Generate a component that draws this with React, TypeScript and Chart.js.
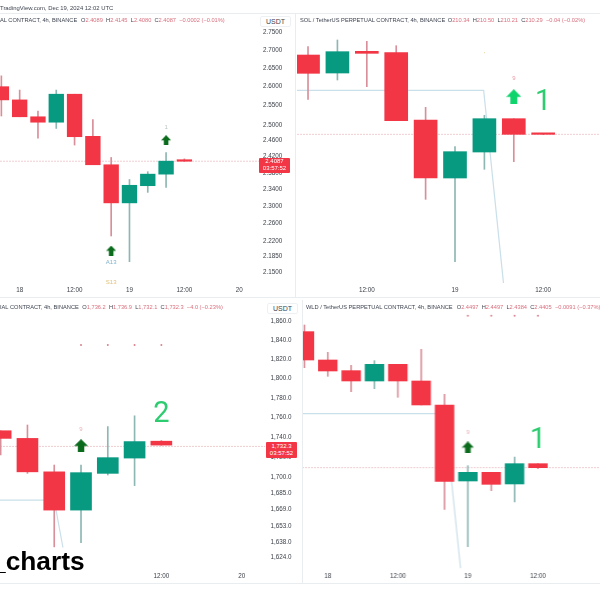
import React, { useEffect, useRef } from "react";
import { Chart, registerables } from "chart.js";

Chart.register(...registerables);

const RED = "#f23645";
const GREEN = "#089981";
const RED_WICK = "#d98f99";
const GREEN_WICK = "#8db7b3";
const LINE = "#c9dfe9";
const LAST_LINE = "#efcdd1";
const FONT = "'Liberation Sans', Arial, sans-serif";

// Top-left panel
const p1Hours = [-4, 0, 4, 8, 12, 16, 20, 24, 28, 32, 36];
const p1Open = [2.6, 2.565, 2.521, 2.507, 2.58, 2.471, 2.4, 2.308, 2.349, 2.377, 2.4089];
const p1High = [2.629, 2.591, 2.536, 2.591, 2.58, 2.514, 2.418, 2.364, 2.383, 2.43, 2.4145];
const p1Low = [2.523, 2.521, 2.466, 2.491, 2.449, 2.4, 2.231, 2.173, 2.333, 2.345, 2.408];
const p1Close = [2.565, 2.521, 2.507, 2.58, 2.47, 2.4, 2.308, 2.35, 2.377, 2.4089, 2.4087];
const p1Ticks = [2.75, 2.7, 2.65, 2.6, 2.55, 2.5, 2.46, 2.42, 2.38, 2.34, 2.3, 2.26, 2.22, 2.185, 2.15];
const p1XTicks = [0, 12, 24, 36, 48];
const p1XLabels = ["18", "12:00", "19", "12:00", "20"];

// Top-right panel (SOL)
const p2Hours = [4, 8, 12, 16, 20, 24, 28, 32, 36];
const p2Open = [230.92, 226.24, 231.88, 231.53, 214.02, 198.93, 205.69, 214.36, 210.34];
const p2High = [233.09, 234.83, 234.48, 233.35, 217.31, 207.08, 215.23, 214.36, 210.5];
const p2Low = [219.39, 224.42, 222.69, 213.84, 193.38, 177.17, 201.19, 203.18, 210.21];
const p2Close = [226.16, 231.79, 231.36, 213.84, 198.93, 205.78, 214.36, 210.29, 210.29];
const p2XTicks = [12, 24, 36];
const p2XLabels = ["12:00", "19", "12:00"];
const p2LineHours = [2.5, 27.9, 30.6];
const p2LineValues = [221.73, 221.73, 171.54];

// Bottom-left panel
const p3Hours = [12, 16, 20, 24, 28, 32, 36];
const p3Open = [1746.7, 1739, 1705.8, 1668.6, 1704.3, 1719.4, 1736.2];
const p3High = [1746.7, 1752.5, 1712.5, 1712.5, 1750.9, 1761.8, 1736.9];
const p3Low = [1722.4, 1704.3, 1633.6, 1637.5, 1702.7, 1692.3, 1732.1];
const p3Close = [1739, 1705.8, 1668.6, 1705, 1719.8, 1735.8, 1732.3];
const p3Ticks = [1860, 1840, 1820, 1800, 1780, 1760, 1740, 1720, 1700, 1685, 1669, 1653, 1638, 1624];
const p3XTicks = [36, 48];
const p3XLabels = ["12:00", "20"];
const p3LineHours = [11.9, 20, 21.3];
const p3LineValues = [1678.3, 1678.3, 1633];

// Bottom-right panel (WLD)
const p4Hours = [-4, 0, 4, 8, 12, 16, 20, 24, 28, 32, 36];
const p4Open = [2.7547, 2.6892, 2.6646, 2.6407, 2.6792, 2.6407, 2.5853, 2.4097, 2.4297, 2.4028, 2.4497];
const p4High = [2.7701, 2.7069, 2.6769, 2.6877, 2.6792, 2.7139, 2.6099, 2.4451, 2.4297, 2.4651, 2.4497];
const p4Low = [2.6715, 2.6515, 2.6161, 2.623, 2.603, 2.5853, 2.3442, 2.258, 2.3874, 2.3612, 2.4384];
const p4Close = [2.6892, 2.6638, 2.6407, 2.6792, 2.6407, 2.5853, 2.4089, 2.4297, 2.402, 2.4497, 2.4405];
const p4XTicks = [0, 12, 24, 36];
const p4XLabels = ["18", "12:00", "19", "12:00"];
const p4LineHours = [-4.42, 20, 22.74];
const p4LineValues = [2.5652, 2.5652, 2.208];

function format4(v: number) { return v.toFixed(4); }
function formatK(v: number) {
  return v.toLocaleString("en-US", { minimumFractionDigits: 1, maximumFractionDigits: 1 });
}

function arrow(w: number, h: number, color: string) {
  const c = document.createElement("canvas");
  c.width = w; c.height = h;
  const g = c.getContext("2d")!;
  const sx = w / 10, sy = h / 10;
  g.fillStyle = color;
  g.beginPath();
  g.moveTo(5 * sx, 0);
  g.lineTo(10 * sx, 5.2 * sy);
  g.lineTo(7.3 * sx, 5.2 * sy);
  g.lineTo(7.3 * sx, 10 * sy);
  g.lineTo(2.7 * sx, 10 * sy);
  g.lineTo(2.7 * sx, 5.2 * sy);
  g.lineTo(0, 5.2 * sy);
  g.closePath();
  g.fill();
  return c;
}

type Cfg = {
  left: number; top: number; width: number; height: number; axisWidth: number; axisHeight: number; axisPad: number;
  hours: number[]; open: number[]; high: number[]; low: number[]; close: number[];
  bodyWidth: number; xMin: number; xMax: number; yMin: number; yMax: number; log: boolean;
  xTicks: number[]; xLabels: string[]; yTicks?: number[]; yFormat?: (v: number) => string;
  last: number; lineX?: number[]; lineY?: number[];
  arrows: { x: number; y: number; w: number; h: number; color: string }[];
  dots?: { x: number[]; y: number };
  marks: { x: number; y: number; text: string; color: string; font: string }[];
};

const panels: Cfg[] = [
  {
    left: 0, top: 13, width: 295, height: 284, axisWidth: 35, axisHeight: 14, axisPad: 3,
    hours: p1Hours, open: p1Open, high: p1High, low: p1Low, close: p1Close, bodyWidth: 14.7,
    xMin: -4.3, xMax: 52.53, yMin: 2.126, yMax: 2.804, log: true,
    xTicks: p1XTicks, xLabels: p1XLabels, yTicks: p1Ticks, yFormat: format4, last: 2.4087,
    arrows: [
      { x: 32, y: 2.4615, w: 10, h: 10, color: "#0b6b1c" },
      { x: 20, y: 2.198, w: 10, h: 10, color: "#0b6b1c" },
    ],
    marks: [
      { x: 32, y: 2.495, text: "1", color: "#b9c2c4", font: `6px ${FONT}` },
      { x: 20, y: 2.171, text: "A13", color: "#7fb2cc", font: `6px ${FONT}` },
      { x: 20, y: 2.127, text: "S13", color: "#e0c27a", font: `6px ${FONT}` },
    ],
  },
  {
    left: 297, top: 13, width: 303, height: 284, axisWidth: 0, axisHeight: 14, axisPad: 0,
    hours: p2Hours, open: p2Open, high: p2High, low: p2Low, close: p2Close, bodyWidth: 23,
    xMin: 2.5, xMax: 43.73, yMin: 171.62, yMax: 241.85, log: false,
    xTicks: p2XTicks, xLabels: p2XLabels, last: 210.29, lineX: p2LineHours, lineY: p2LineValues,
    arrows: [{ x: 32, y: 220.09, w: 15, h: 15, color: "#0fd46c" }],
    marks: [
      { x: 28, y: 231.19, text: "'", color: "#e0c27a", font: `6px ${FONT}` },
      { x: 32, y: 224.86, text: "9", color: "#e79aa2", font: `6px ${FONT}` },
      { x: 36, y: 218.61, text: "1", color: "#2ecc71", font: `29px Roboto, ${FONT}` },
    ],
  },
  {
    left: 0, top: 300, width: 300, height: 283, axisWidth: 35, axisHeight: 14, axisPad: 5.5,
    hours: p3Hours, open: p3Open, high: p3High, low: p3Low, close: p3Close, bodyWidth: 21,
    xMin: 11.9, xMax: 51.48, yMin: 1612.9, yMax: 1883.4, log: true,
    xTicks: p3XTicks, xLabels: p3XLabels, yTicks: p3Ticks, yFormat: formatK, last: 1731,
    lineX: p3LineHours, lineY: p3LineValues,
    arrows: [{ x: 24, y: 1731.7, w: 14, h: 13, color: "#0b6b1c" }],
    dots: { x: [24, 28, 32, 36], y: 1835.2 },
    marks: [
      { x: 24, y: 1748.4, text: "9", color: "#e8b2b8", font: `6px ${FONT}` },
      { x: 36, y: 1763.2, text: "2", color: "#2ecc71", font: `29px Roboto, ${FONT}` },
    ],
  },
  {
    left: 302.3, top: 300, width: 297.7, height: 283, axisWidth: 0, axisHeight: 14, axisPad: 0,
    hours: p4Hours, open: p4Open, high: p4High, low: p4Low, close: p4Close, bodyWidth: 18.7,
    xMin: -4.42, xMax: 46.64, yMin: 2.2064, yMax: 2.8278, log: false,
    xTicks: p4XTicks, xLabels: p4XLabels, last: 2.4405, lineX: p4LineHours, lineY: p4LineValues,
    arrows: [{ x: 24, y: 2.4875, w: 12, h: 12, color: "#0b6b1c" }],
    dots: { x: [24, 28, 32, 36], y: 2.7916 },
    marks: [
      { x: 24, y: 2.5221, text: "9", color: "#e8b2b8", font: `6px ${FONT}` },
      { x: 36, y: 2.5029, text: "1", color: "#2ecc71", font: `29px Roboto, ${FONT}` },
    ],
  },
];

function Panel({ cfg }: { cfg: Cfg }) {
  const ref = useRef<HTMLCanvasElement | null>(null);
  useEffect(() => {
    const colors = cfg.close.map((c, i) => (c >= cfg.open[i] ? GREEN : RED));
    const wickColors = cfg.close.map((c, i) => (c >= cfg.open[i] ? GREEN_WICK : RED_WICK));
    const toRange = (a: number[], b: number[]) => cfg.hours.map((h, i) => ({ x: h, y: [a[i], b[i]] }));
    const datasets: any[] = [
      {
        type: "line", order: 5, data: [{ x: cfg.xMin, y: cfg.last }, { x: cfg.xMax, y: cfg.last }],
        borderColor: LAST_LINE, borderWidth: 1, pointRadius: 0, borderDash: [2, 1],
      },
      {
        type: "bar", order: 3, data: toRange(cfg.low, cfg.high), backgroundColor: wickColors,
        barThickness: 1, grouped: false,
      },
      {
        type: "bar", order: 2, data: toRange(cfg.open, cfg.close), backgroundColor: colors,
        barThickness: cfg.bodyWidth, grouped: false, minBarLength: 1.5,
      },
    ];
    if (cfg.lineX && cfg.lineY) {
      const ly = cfg.lineY;
      datasets.push({
        type: "line", order: 4, data: cfg.lineX.map((x, i) => ({ x, y: ly[i] })),
        borderColor: LINE, borderWidth: 1.2, pointRadius: 0,
      });
    }
    cfg.arrows.forEach((a) => datasets.push({
      type: "line", order: 1, showLine: false, data: [{ x: a.x, y: a.y }],
      pointStyle: arrow(a.w, a.h, a.color), pointRadius: a.w / 2,
    }));
    if (cfg.dots) {
      const d = cfg.dots;
      datasets.push({
        type: "line", order: 1, showLine: false, data: d.x.map((x) => ({ x, y: d.y })),
        pointStyle: "circle", pointRadius: 1, backgroundColor: "#d9808c", borderWidth: 0,
      });
    }
    const marksPlugin = {
      id: "marks",
      afterDatasetsDraw(chart: any) {
        const g = chart.ctx;
        g.save();
        g.textAlign = "center";
        g.textBaseline = "middle";
        cfg.marks.forEach((m) => {
          g.font = m.font;
          g.fillStyle = m.color;
          g.fillText(m.text, chart.scales.x.getPixelForValue(m.x), chart.scales.y.getPixelForValue(m.y));
        });
        g.restore();
      },
    };
    const chart = new Chart(ref.current!, {
      type: "bar",
      data: { datasets },
      plugins: [marksPlugin],
      options: {
        responsive: false, animation: false, maintainAspectRatio: false,
        layout: { padding: 0, autoPadding: false },
        plugins: { legend: { display: false }, tooltip: { enabled: false }, title: { display: false } },
        scales: {
          x: {
            type: "linear", offset: false, min: cfg.xMin, max: cfg.xMax,
            grid: { display: false, drawTicks: false }, border: { display: false },
            afterBuildTicks: (s: any) => { s.ticks = cfg.xTicks.map((value) => ({ value })); },
            afterFit: (s: any) => { s.height = cfg.axisHeight; s.paddingLeft = 0; s.paddingRight = 0; },
            ticks: {
              autoSkip: false, maxRotation: 0, padding: 3, color: "#3a3f47",
              font: { size: 6.3, family: FONT },
              callback: (v: any) => cfg.xLabels[cfg.xTicks.indexOf(Number(v))] ?? "",
            },
          },
          y: {
            type: cfg.log ? "logarithmic" : "linear", position: "right", min: cfg.yMin, max: cfg.yMax,
            bounds: "data",
            display: cfg.axisWidth > 0,
            grid: { display: false, drawTicks: false }, border: { display: false },
            afterBuildTicks: (s: any) => { if (cfg.yTicks) s.ticks = cfg.yTicks.map((value) => ({ value })); },
            afterFit: (s: any) => { s.width = cfg.axisWidth; s.paddingTop = 0; s.paddingBottom = 0; },
            ticks: {
              autoSkip: false, padding: cfg.axisPad, color: "#3a3f47",
              font: { size: 6.3, family: FONT },
              callback: (v: any) => (cfg.yFormat ? cfg.yFormat(Number(v)) : ""),
            },
          },
        },
      } as any,
    });
    return () => chart.destroy();
  }, [cfg]);
  return (
    <canvas
      ref={ref}
      width={cfg.width}
      height={cfg.height}
      style={{ position: "absolute", left: cfg.left, top: cfg.top, width: cfg.width, height: cfg.height, display: "block" }}
    />
  );
}

const hdrBase: React.CSSProperties = {
  position: "absolute", whiteSpace: "nowrap", fontFamily: FONT, fontSize: 5.7, lineHeight: "8px",
};

function Header({ left, top, text, valLeft, vals }: { left: number; top: number; text: string; valLeft: number; vals: string[] }) {
  return (
    <>
      <div style={{ ...hdrBase, left, top, color: "#3e4450" }}>{text}</div>
      <div style={{ ...hdrBase, left: valLeft, top, color: "#d9707f" }}>
        {vals.map((v, i) => (
          <span key={i} style={{ marginRight: 3.2 }}>
            {i < 4 ? <span style={{ color: "#3e4450" }}>{v[0]}</span> : null}
            {i < 4 ? v.slice(1) : v}
          </span>
        ))}
      </div>
    </>
  );
}

function PriceTag({ left, top, a, b }: { left: number; top: number; a: string; b: string }) {
  return (
    <div style={{ position: "absolute", left, top, width: 31, height: 15, background: RED, borderRadius: 1, color: "#fff",
      fontFamily: FONT, fontSize: 6, lineHeight: "7px", textAlign: "center", paddingTop: 0.5 }}>
      {a}<br />{b}
    </div>
  );
}

function Usdt({ left, top }: { left: number; top: number }) {
  return (
    <div style={{ position: "absolute", left, top, width: 29, height: 9, border: "1px solid #eef1f3", borderRadius: 2,
      fontFamily: FONT, fontSize: 7, lineHeight: "9px", textAlign: "center", color: "#3e4450", background: "#fff" }}>USDT</div>
  );
}

function Rule({ left, top, width, height }: { left: number; top: number; width: number; height: number }) {
  return <div style={{ position: "absolute", left, top, width, height, background: "#e9edf0" }} />;
}

export default function App() {
  return (
    <div style={{ position: "fixed", left: 0, top: 0, width: 600, height: 600, overflow: "hidden", background: "#fff", filter: "blur(0.45px)" }}>
      {panels.map((p, i) => <Panel key={i} cfg={p} />)}
      <Rule left={0} top={13} width={600} height={1} />
      <Rule left={0} top={297} width={600} height={1} />
      <Rule left={0} top={583} width={600} height={1} />
      <Rule left={295} top={13} width={1} height={285} />
      <Rule left={302} top={300} width={1} height={283} />
      <div style={{ ...hdrBase, left: 0, top: 3.5, color: "#3e4450", fontSize: 5.9 }}>TradingView.com, Dec 19, 2024 12:02 UTC</div>
      <Header left={0} top={16} text="AL CONTRACT, 4h, BINANCE" valLeft={81} vals={["O2.4089", "H2.4145", "L2.4080", "C2.4087", "−0.0002 (−0.01%)"]} />
      <Header left={300} top={16} text="SOL / TetherUS PERPETUAL CONTRACT, 4h, BINANCE" valLeft={447.7} vals={["O210.34", "H210.50", "L210.21", "C210.29", "−0.04 (−0.02%)"]} />
      <Header left={0} top={303} text="IAL CONTRACT, 4h, BINANCE" valLeft={82.3} vals={["O1,736.2", "H1,736.9", "L1,732.1", "C1,732.3", "−4.0 (−0.23%)"]} />
      <Header left={306} top={303} text="WLD / TetherUS PERPETUAL CONTRACT, 4h, BINANCE" valLeft={456.7} vals={["O2.4497", "H2.4497", "L2.4384", "C2.4405", "−0.0091 (−0.37%)"]} />
      <Usdt left={260} top={16} />
      <Usdt left={267} top={303} />
      <PriceTag left={259} top={157.5} a="2.4087" b="03:57:52" />
      <PriceTag left={266} top={442} a="1,732.3" b="03:57:52" />
      <div style={{ position: "absolute", left: -9, top: 544, fontFamily: FONT, fontWeight: 700, fontSize: 26.3, lineHeight: "34px", color: "#000", whiteSpace: "nowrap" }}>_charts</div>
    </div>
  );
}
